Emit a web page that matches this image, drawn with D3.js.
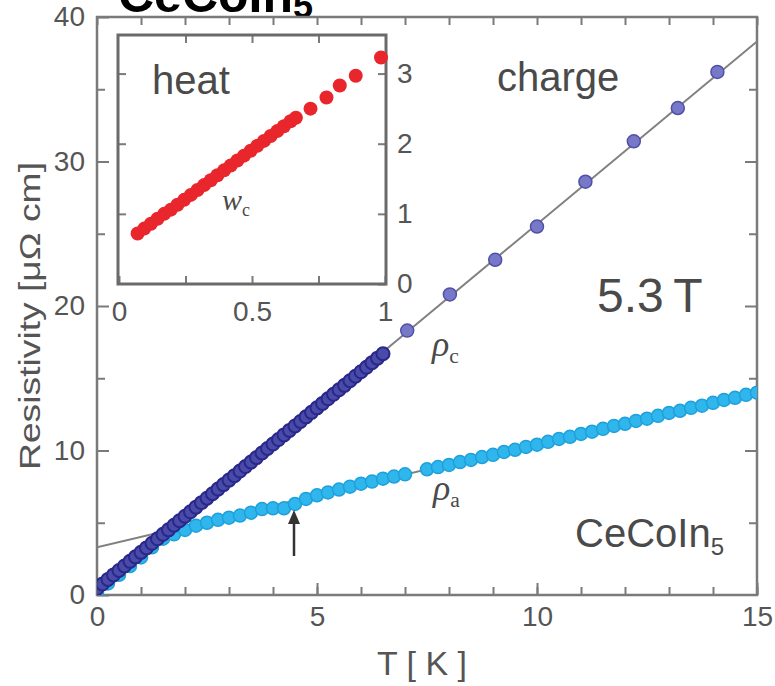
<!DOCTYPE html>
<html>
<head>
<meta charset="utf-8">
<script src="https://cdn.jsdelivr.net/npm/d3@7"></script>
<style>
  body { margin: 0; background: #fff; }
  text { font-family: "Liberation Sans", Arial, sans-serif; }
</style>
</head>
<body>
<svg width="775" height="686"></svg>
<script>
// rho_c, dense low-T data [T (K), rho (uOhm cm)]
const rhoCDense = [
  [0, 0.45], [0.125, 0.76], [0.25, 1.08], [0.375, 1.39], [0.5, 1.7], [0.625, 2.01],
  [0.75, 2.33], [0.875, 2.64], [1.0, 2.95], [1.125, 3.26], [1.25, 3.58], [1.375, 3.89],
  [1.5, 4.2], [1.625, 4.51], [1.75, 4.83], [1.875, 5.14], [2.0, 5.45], [2.125, 5.76],
  [2.25, 6.08], [2.375, 6.39], [2.5, 6.7], [2.625, 7.01], [2.75, 7.33], [2.875, 7.64],
  [3.0, 7.95], [3.125, 8.26], [3.25, 8.58], [3.375, 8.89], [3.5, 9.2], [3.625, 9.51],
  [3.75, 9.83], [3.875, 10.14], [4.0, 10.45], [4.125, 10.76], [4.25, 11.08], [4.375, 11.39],
  [4.5, 11.7], [4.625, 12.01], [4.75, 12.33], [4.875, 12.64], [5.0, 12.95], [5.125, 13.26],
  [5.25, 13.58], [5.375, 13.89], [5.5, 14.2], [5.625, 14.51], [5.75, 14.83], [5.875, 15.14],
  [6.0, 15.45], [6.125, 15.76], [6.25, 16.08], [6.375, 16.39], [6.5, 16.7]
];
// rho_c, sparse high-T data
const rhoCSparse = [
  [7.05, 18.3], [8.02, 20.8], [9.05, 23.2], [10.0, 25.5],
  [11.1, 28.6], [12.2, 31.4], [13.2, 33.7], [14.1, 36.2]
];
// rho_a data
const rhoA = [
  [0, 0.2], [0.25, 0.8], [0.5, 1.4], [0.75, 2.0], [1.0, 2.6], [1.25, 3.3], [1.5, 3.9],
  [1.75, 4.2], [2.0, 4.5], [2.25, 4.8], [2.5, 5.0], [2.75, 5.2], [3.0, 5.35], [3.25, 5.5],
  [3.5, 5.7], [3.75, 5.95], [4.0, 6.0], [4.25, 6.0], [4.5, 6.3], [4.75, 6.65], [5.0, 6.9],
  [5.25, 7.1], [5.5, 7.3], [5.75, 7.5], [6.0, 7.7], [6.25, 7.85], [6.5, 8.05], [6.75, 8.2],
  [7.0, 8.35], [7.5, 8.7], [7.75, 8.85], [8.0, 9.0], [8.25, 9.2], [8.5, 9.35], [8.75, 9.55],
  [9.0, 9.7], [9.25, 9.9], [9.5, 10.05], [9.75, 10.25], [10.0, 10.4], [10.25, 10.6],
  [10.5, 10.8], [10.75, 10.95], [11.0, 11.15], [11.25, 11.3], [11.5, 11.5], [11.75, 11.7],
  [12.0, 11.85], [12.25, 12.05], [12.5, 12.2], [12.75, 12.4], [13.0, 12.6], [13.25, 12.75],
  [13.5, 12.95], [13.75, 13.1], [14.0, 13.3], [14.25, 13.5], [14.5, 13.65], [14.75, 13.85],
  [15.0, 14.0]
];
// linear fits (end points)
const fitC = [[0, 0.4], [15, 38.3]];
const fitA = [[0, 3.3], [15, 14.1]];
// inset: heat data w_c vs T
const heat = [
  [0.07, 0.72], [0.095, 0.79], [0.12, 0.86], [0.145, 0.93], [0.17, 1.0], [0.195, 1.06],
  [0.22, 1.13], [0.245, 1.2], [0.27, 1.27], [0.295, 1.34], [0.32, 1.41], [0.345, 1.48],
  [0.37, 1.55], [0.395, 1.62], [0.42, 1.69], [0.445, 1.76], [0.47, 1.83], [0.495, 1.9],
  [0.52, 1.97], [0.545, 2.04], [0.57, 2.11], [0.595, 2.18], [0.62, 2.25], [0.645, 2.32],
  [0.665, 2.37], [0.72, 2.5], [0.78, 2.66], [0.83, 2.83], [0.89, 2.97], [0.985, 3.23]
];
const xTicks = [0, 5, 10, 15];
const yTicks = [0, 10, 20, 30, 40];
const insetXTicks = [0, 0.5, 1];
const insetYTicks = [0, 1, 2, 3];

const svg = d3.select("svg");
const axisCol = "#7a7a7a", textCol = "#555";

// main scales
const x = d3.scaleLinear().domain([0, 15]).range([97, 757]);
const y = d3.scaleLinear().domain([0, 40]).range([595, 17]);

// cut-off heading at the very top (cropped in the original too)
const head = svg.append("text").attr("x", 118).attr("y", 12)
  .style("font-size", "50px").style("font-weight", "bold").attr("fill", "#000");
head.append("tspan").text("CeCoIn");
head.append("tspan").attr("dy", 6).style("font-size", "36px").text("5");

const g = svg.append("g");

// axes: minor ticks (no labels) then major ticks with labels
function styleAxis(sel) {
  sel.selectAll(".domain").remove();
  sel.selectAll("line").attr("stroke", axisCol).attr("stroke-width", 2);
  sel.selectAll("text").attr("fill", textCol).style("font-size", "28px")
    .style("font-family", "Liberation Sans, Arial, sans-serif");
}
g.append("g").attr("transform", "translate(0,595)")
  .call(d3.axisBottom(x).tickValues(d3.range(0, 16)).tickSize(-8).tickFormat(""))
  .call(styleAxis);
g.append("g").attr("transform", "translate(0,595)")
  .call(d3.axisBottom(x).tickValues(xTicks).tickSize(-12).tickPadding(11).tickFormat(d3.format("d")))
  .call(styleAxis);
g.append("g").attr("transform", "translate(0,17)")
  .call(d3.axisTop(x).tickValues(d3.range(0, 16)).tickSize(-8).tickFormat(""))
  .call(styleAxis);
g.append("g").attr("transform", "translate(97,0)")
  .call(d3.axisLeft(y).tickValues([5, 15, 25, 35]).tickSize(-8).tickFormat(""))
  .call(styleAxis);
g.append("g").attr("transform", "translate(97,0)")
  .call(d3.axisLeft(y).tickValues(yTicks).tickSize(-12).tickPadding(12))
  .call(styleAxis);
g.append("g").attr("transform", "translate(757,0)")
  .call(d3.axisRight(y).tickValues([5, 15, 25, 35]).tickSize(-8).tickFormat(""))
  .call(styleAxis);
g.append("g").attr("transform", "translate(757,0)")
  .call(d3.axisRight(y).tickValues([10, 20, 30]).tickSize(-12).tickFormat(""))
  .call(styleAxis);

g.append("rect").attr("x", 97).attr("y", 17).attr("width", 660).attr("height", 578)
  .attr("fill", "none").attr("stroke", axisCol).attr("stroke-width", 2.5);

// axis titles
svg.append("text").attr("x", 422).attr("y", 675).attr("text-anchor", "middle")
  .attr("fill", textCol).style("font-size", "34px").text("T [ K ]");
svg.append("text").attr("transform", "translate(40,316) rotate(-90)")
  .attr("text-anchor", "middle").attr("fill", textCol).style("font-size", "29px")
  .attr("textLength", 308).attr("lengthAdjust", "spacingAndGlyphs")
  .text("Resistivity [\u03bc\u03a9 cm]");

// data
svg.append("clipPath").attr("id", "clip").append("rect")
  .attr("x", 97).attr("y", 17).attr("width", 660).attr("height", 578);
const plot = svg.append("g").attr("clip-path", "url(#clip)");
const line = d3.line().x(d => x(d[0])).y(d => y(d[1]));
plot.append("path").attr("d", line(fitA)).attr("fill", "none").attr("stroke", "#808080").attr("stroke-width", 2);
plot.append("path").attr("d", line(fitC)).attr("fill", "none").attr("stroke", "#808080").attr("stroke-width", 2);

plot.selectAll(".pa").data(rhoA).enter().append("circle").attr("class", "pa")
  .attr("cx", d => x(d[0])).attr("cy", d => y(d[1])).attr("r", 6.5)
  .attr("fill", "#2fb6ec").attr("stroke", "#1ea0dc").attr("stroke-width", 1.5);
plot.selectAll(".pc").data(rhoCDense).enter().append("circle").attr("class", "pc")
  .attr("cx", d => x(d[0])).attr("cy", d => y(d[1])).attr("r", 6.5)
  .attr("fill", "#4a4aa8").attr("stroke", "#28288a").attr("stroke-width", 2);
plot.selectAll(".ps").data(rhoCSparse).enter().append("circle").attr("class", "ps")
  .attr("cx", d => x(d[0])).attr("cy", d => y(d[1])).attr("r", 6.5)
  .attr("fill", "#7878c8").attr("stroke", "#5050a8").attr("stroke-width", 1.5);

// arrow
svg.append("line").attr("x1", 294).attr("y1", 556).attr("x2", 294).attr("y2", 522)
  .attr("stroke", "#333").attr("stroke-width", 2.5);
svg.append("path").attr("d", "M288,524 L294,510 L300,524 Z").attr("fill", "#333");

// labels in main panel
function subLabel(xp, yp, main, sub, size, italic) {
  const t = svg.append("text").attr("x", xp).attr("y", yp).attr("fill", "#4a4a4a")
    .style("font-size", size + "px");
  if (italic) t.style("font-family", "Liberation Serif, serif").style("font-style", "italic");
  t.append("tspan").text(main);
  t.append("tspan").attr("dy", size * 0.2).style("font-size", (size * 0.6) + "px")
    .style("font-style", "normal").text(sub);
  return t;
}
svg.append("text").attr("x", 497).attr("y", 91).attr("fill", "#4a4a4a")
  .style("font-size", "40px").text("charge");
svg.append("text").attr("x", 597).attr("y", 312).attr("fill", "#4a4a4a")
  .style("font-size", "48px").text("5.3\u2009T");
subLabel(432, 356, "\u03c1", "c", 36, true);
subLabel(433, 500, "\u03c1", "a", 36, true);
subLabel(575, 547, "CeCoIn", "5", 40, false);

// inset
const ix = d3.scaleLinear().domain([0, 1]).range([119, 385]);
const iy = d3.scaleLinear().domain([0, 3.55]).range([284, 35]);
const ins = svg.append("g");
ins.append("rect").attr("x", 118).attr("y", 35).attr("width", 268).attr("height", 249)
  .attr("fill", "#fff");
ins.append("g").attr("transform", "translate(0,284)")
  .call(d3.axisBottom(ix).tickValues(insetXTicks).tickSize(-8).tickPadding(17).tickFormat(d3.format("")))
  .call(styleAxis);
ins.append("g").attr("transform", "translate(0,284)")
  .call(d3.axisBottom(ix).tickValues([0.25, 0.75]).tickSize(-8).tickFormat(""))
  .call(styleAxis);
ins.append("g").attr("transform", "translate(0,35)")
  .call(d3.axisTop(ix).tickValues([0.25, 0.5, 0.75]).tickSize(-8).tickFormat(""))
  .call(styleAxis);
ins.append("g").attr("transform", "translate(118,0)")
  .call(d3.axisLeft(iy).tickValues([1, 2, 3]).tickSize(-8).tickFormat(""))
  .call(styleAxis);
ins.append("g").attr("transform", "translate(386,0)")
  .call(d3.axisRight(iy).tickValues(insetYTicks).tickSize(-8).tickPadding(11).tickFormat(d3.format("d")))
  .call(styleAxis);
ins.append("rect").attr("x", 118).attr("y", 35).attr("width", 268).attr("height", 249)
  .attr("fill", "none").attr("stroke", "#6a6a6a").attr("stroke-width", 3);
ins.selectAll(".h").data(heat).enter().append("circle").attr("class", "h")
  .attr("cx", d => ix(d[0])).attr("cy", d => iy(d[1])).attr("r", 7)
  .attr("fill", "#e8262c");
ins.append("text").attr("x", 152).attr("y", 94).attr("fill", "#4a4a4a")
  .style("font-size", "40px").text("heat");
subLabel(222, 210, "w", "c", 30, true);
</script>
</body>
</html>
